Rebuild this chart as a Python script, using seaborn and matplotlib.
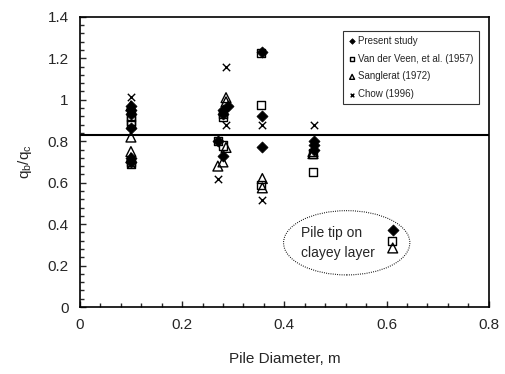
import numpy as np
import pandas as pd
import matplotlib as mpl
mpl.use('Agg')
import matplotlib.pyplot as plt
from matplotlib.patches import Ellipse
from matplotlib.ticker import MultipleLocator
import seaborn as sns

sns.set_style('ticks')
plt.rcParams['font.family'] = ['Liberation Sans', 'DejaVu Sans']
plt.rcParams['mathtext.fontset'] = 'custom'
plt.rcParams['mathtext.rm'] = 'Liberation Sans'
plt.rcParams['mathtext.it'] = 'Liberation Sans'

# data: (pile diameter m, qb/qc)
present_x = [0.10, 0.10, 0.10, 0.10, 0.10, 0.10, 0.27, 0.28, 0.28, 0.28, 0.29, 0.356, 0.356, 0.356, 0.458, 0.458, 0.458, 0.612]
present_y = [0.97, 0.95, 0.93, 0.865, 0.72, 0.70, 0.80, 0.95, 0.93, 0.73, 0.97, 1.23, 0.92, 0.77, 0.80, 0.78, 0.76, 0.37]
veen_x = [0.10, 0.10, 0.10, 0.10, 0.10, 0.27, 0.28, 0.28, 0.28, 0.354, 0.354, 0.354, 0.456, 0.456, 0.61]
veen_y = [0.92, 0.90, 0.88, 0.70, 0.69, 0.80, 0.93, 0.92, 0.78, 1.225, 0.975, 0.59, 0.74, 0.65, 0.32]
sang_x = [0.10, 0.10, 0.10, 0.10, 0.27, 0.286, 0.286, 0.286, 0.28, 0.357, 0.357, 0.456, 0.456, 0.612]
sang_y = [0.97, 0.82, 0.75, 0.72, 0.68, 1.01, 0.99, 0.77, 0.70, 0.62, 0.575, 0.75, 0.74, 0.285]
chow_x = [0.10, 0.10, 0.27, 0.286, 0.286, 0.357, 0.357, 0.458]
chow_y = [1.015, 0.69, 0.62, 1.16, 0.88, 0.88, 0.515, 0.88]
avg_ratio = 0.83

fig = plt.figure(figsize=(5.05, 3.74), dpi=100)
ax = fig.add_axes([0.158, 0.179, 0.81, 0.776])

sns.scatterplot(x=present_x, y=present_y, marker='D', s=32, color='k', edgecolor='k', linewidth=0.5, label='Present study', ax=ax, zorder=4)
sns.scatterplot(x=veen_x, y=veen_y, marker='s', s=36, facecolor='none', edgecolor='k', linewidth=1.0, label='Van der Veen, et al. (1957)', ax=ax, zorder=3)
sns.scatterplot(x=sang_x, y=sang_y, marker='^', s=50, facecolor='none', edgecolor='k', linewidth=1.0, label='Sanglerat (1972)', ax=ax, zorder=3)
sns.scatterplot(x=chow_x, y=chow_y, marker='x', s=28, color='k', linewidth=1.0, label='Chow (1996)', ax=ax, zorder=3)

ax.axhline(avg_ratio, color='k', lw=1.5, zorder=2)

ax.add_patch(Ellipse((0.522, 0.31), 0.247, 0.31, fill=False, ls=(0, (0.8, 1.2)), lw=0.8, color='k'))
ax.text(0.432, 0.31, 'Pile tip on\nclayey layer', fontsize=10, va='center', ha='left', linespacing=1.5)

ax.set_xlim(0, 0.8)
ax.set_ylim(0, 1.4)
ax.xaxis.set_major_locator(MultipleLocator(0.2))
ax.xaxis.set_minor_locator(MultipleLocator(0.04))
ax.yaxis.set_major_locator(MultipleLocator(0.2))
ax.yaxis.set_minor_locator(MultipleLocator(0.04))
ax.xaxis.set_major_formatter(mpl.ticker.FuncFormatter(lambda v, p: '%g' % round(v, 2)))
ax.yaxis.set_major_formatter(mpl.ticker.FuncFormatter(lambda v, p: '%g' % round(v, 2)))
ax.tick_params(which='both', direction='in', labelsize=11, width=1)
ax.tick_params(which='major', length=4, pad=8)
ax.tick_params(which='minor', length=3)
for sp in ax.spines.values():
    sp.set_linewidth(1.2)
    sp.set_color('k')

ax.set_xlabel('Pile Diameter, m', fontsize=11, labelpad=14)
ax.set_ylabel(r'q$_\mathrm{b}$/q$_\mathrm{c}$', fontsize=11, labelpad=10)

leg = ax.legend(loc='upper right', bbox_to_anchor=(0.987, 0.968), fontsize=7, markerscale=0.5,
                frameon=True, fancybox=False, edgecolor='k', handletextpad=0.2, handlelength=0.9,
                borderpad=0.5, labelspacing=0.8)
leg.get_frame().set_linewidth(0.8)

fig.savefig('out.png', dpi=100)
